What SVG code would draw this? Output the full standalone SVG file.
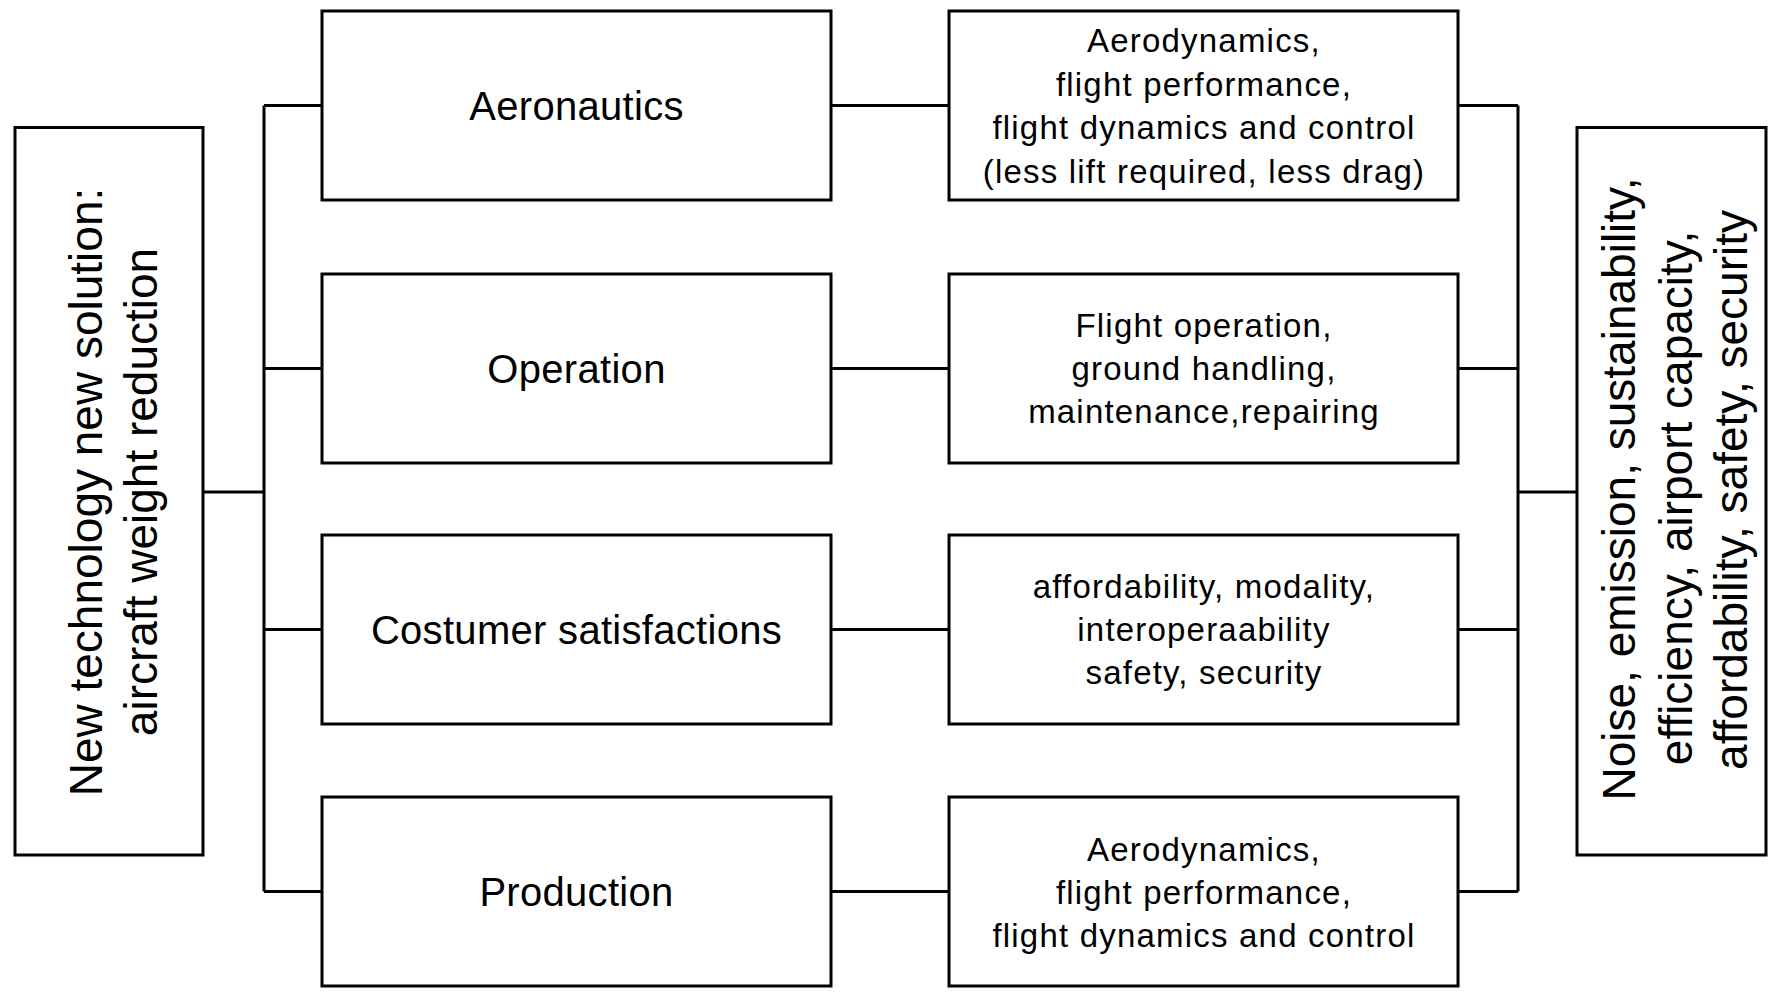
<svg xmlns="http://www.w3.org/2000/svg" width="1768" height="994" viewBox="0 0 1768 994">
<style>
.box{fill:#fff;stroke:#000;stroke-width:3}
.ln{fill:none;stroke:#000;stroke-width:3}
text{font-family:"Liberation Sans",Arial,sans-serif;fill:#000;text-anchor:middle}
.t1{font-size:40px;letter-spacing:0.3px}
.t2{font-size:33px;letter-spacing:1.2px}
.tv{font-size:46px}
</style>
<rect width="1768" height="994" fill="#fff"/>
<g id="connectors">
<path class="ln" d="M203,492 H264 M264,105.5 V891.5 M264,105.5 H322 M264,368.5 H322 M264,629.5 H322 M264,891.5 H322"/>
<path class="ln" d="M831,105.5 H949 M831,368.5 H949 M831,629.5 H949 M831,891.5 H949"/>
<path class="ln" d="M1458,105.5 H1518 M1458,368.5 H1518 M1458,629.5 H1518 M1458,891.5 H1518 M1518,105.5 V891.5 M1518,492 H1577"/>
</g>
<g id="source">
<rect class="box" x="15" y="127.5" width="188" height="727.5"/>
<text class="tv" transform="translate(102,492) rotate(-90)">New technology new solution:</text>
<text class="tv" transform="translate(157,492) rotate(-90)">aircraft weight reduction</text>
</g>
<g id="aeronautics">
<rect class="box" x="322" y="11" width="509" height="189"/>
<text class="t1" x="576.5" y="120">Aeronautics</text>
</g>
<g id="operation">
<rect class="box" x="322" y="274" width="509" height="189"/>
<text class="t1" x="576.5" y="383">Operation</text>
</g>
<g id="costumer">
<rect class="box" x="322" y="535" width="509" height="189"/>
<text class="t1" x="576.5" y="644">Costumer satisfactions</text>
</g>
<g id="production">
<rect class="box" x="322" y="797" width="509" height="189"/>
<text class="t1" x="576.5" y="906">Production</text>
</g>
<g id="aero-detail">
<rect class="box" x="949" y="11" width="509" height="189"/>
<text class="t2" x="1204" y="52">Aerodynamics,</text>
<text class="t2" x="1204" y="96">flight performance,</text>
<text class="t2" x="1204" y="139">flight dynamics and control</text>
<text class="t2" x="1204" y="183">(less lift required, less drag)</text>
</g>
<g id="operation-detail">
<rect class="box" x="949" y="274" width="509" height="189"/>
<text class="t2" x="1204" y="337">Flight operation,</text>
<text class="t2" x="1204" y="380">ground handling,</text>
<text class="t2" x="1204" y="423">maintenance,repairing</text>
</g>
<g id="costumer-detail">
<rect class="box" x="949" y="535" width="509" height="189"/>
<text class="t2" x="1204" y="598">affordability, modality,</text>
<text class="t2" x="1204" y="641">interoperaability</text>
<text class="t2" x="1204" y="684">safety, security</text>
</g>
<g id="production-detail">
<rect class="box" x="949" y="797" width="509" height="189"/>
<text class="t2" x="1204" y="861">Aerodynamics,</text>
<text class="t2" x="1204" y="904">flight performance,</text>
<text class="t2" x="1204" y="947">flight dynamics and control</text>
</g>
<g id="goals">
<rect class="box" x="1577" y="127.5" width="189" height="727.5"/>
<text class="tv" transform="translate(1635,489) rotate(-90)">Noise, emission, sustainability,</text>
<text class="tv" transform="translate(1692,498) rotate(-90)">efficiency, airport capacity,</text>
<text class="tv" transform="translate(1747,490) rotate(-90)">affordability, safety, security</text>
</g>
</svg>
